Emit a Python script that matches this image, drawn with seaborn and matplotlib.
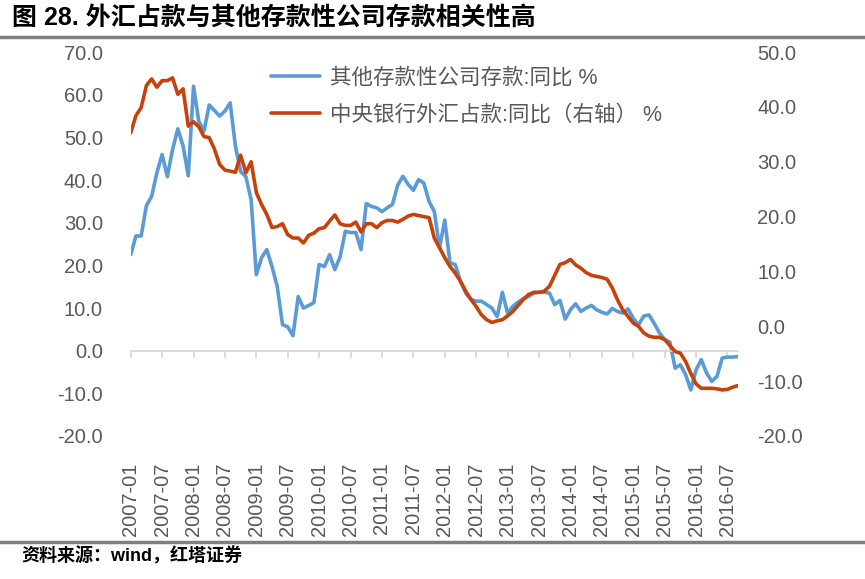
# 外汇占款与其他存款性公司存款 同比走势
import numpy as np
import pandas as pd
import matplotlib
matplotlib.use('Agg')
import matplotlib.pyplot as plt
from matplotlib.lines import Line2D
import seaborn as sns

# monthly data, 2007-01 .. 2016-09
months = pd.period_range('2007-01', periods=117, freq='M').strftime('%Y-%m').tolist()

# 其他存款性公司存款:同比 (left axis)
deposit_yoy = [
    22.5, 26.9, 26.9, 34.0, 36.2, 41.7, 46.0, 40.8, 47.2, 52.0, 48.0, 41.0,
    62.0, 53.8, 51.5, 57.6, 56.3, 55.0, 56.2, 58.1, 48.0, 42.0, 40.8, 35.4,
    17.8, 21.8, 23.7, 19.7, 15.0, 6.1, 5.6, 3.5, 12.7, 10.0, 10.6, 11.3,
    20.2, 19.7, 22.5, 19.0, 22.0, 28.0, 27.7, 27.7, 23.7, 34.5, 33.8, 33.5,
    32.6, 33.5, 34.3, 38.8, 40.9, 39.0, 37.6, 40.1, 39.3, 35.0, 32.6, 24.2,
    30.6, 20.6, 20.2, 16.3, 13.5, 12.0, 11.6, 11.6, 10.8, 10.0, 8.0, 13.7,
    8.8, 10.4, 11.4, 12.2, 12.7, 13.5, 13.7, 13.7, 13.5, 10.8, 11.8, 7.4,
    9.6, 11.0, 9.2, 10.0, 10.6, 9.6, 9.0, 8.6, 9.9, 9.2, 8.8, 9.8,
    7.6, 6.0, 8.1, 8.4, 6.4, 4.2, 2.6, 2.0, -4.1, -3.3, -5.6, -9.2,
    -4.5, -2.1, -5.2, -7.2, -6.0, -1.7, -1.5, -1.5, -1.4,
]

# 中央银行外汇占款:同比 (right axis)
fx_yoy = [
    35.3, 38.4, 39.9, 43.9, 45.1, 43.6, 44.8, 44.8, 45.3, 42.3, 43.3, 36.5,
    37.3, 36.4, 34.6, 34.4, 32.3, 29.5, 28.5, 28.3, 28.1, 31.2, 28.0, 30.0,
    24.4, 22.2, 20.4, 18.0, 18.2, 18.7, 16.7, 16.1, 16.1, 15.2, 16.6, 17.0,
    17.8, 18.0, 19.2, 20.3, 18.7, 18.4, 18.4, 19.0, 17.2, 18.7, 18.7, 18.0,
    18.9, 19.3, 19.3, 19.0, 19.5, 20.1, 20.4, 20.2, 20.0, 19.8, 16.1, 14.3,
    12.5, 10.9, 9.7, 8.2, 6.4, 4.9, 3.6, 2.1, 1.2, 0.7, 1.0, 1.2,
    1.9, 2.7, 3.8, 4.9, 5.8, 6.2, 6.2, 6.4, 7.3, 9.3, 11.3, 11.6,
    12.2, 11.2, 10.6, 9.8, 9.3, 9.1, 8.9, 8.6, 7.0, 4.8, 3.0, 1.8,
    0.6, 0.0, -1.2, -1.8, -2.0, -2.0, -2.4, -3.5, -4.6, -4.9, -6.4, -8.6,
    -10.5, -11.3, -11.3, -11.3, -11.4, -11.6, -11.5, -11.1, -10.8,
]

label_left = '其他存款性公司存款:同比 %'
label_right = '中央银行外汇占款:同比（右轴） %'

df = pd.DataFrame({'t': np.arange(len(months)), 'deposit': deposit_yoy, 'fx': fx_yoy})

tick_idx = list(range(0, len(months) - 2, 6))
tick_lab = [months[i] for i in tick_idx]

sns.set_theme(style='white')
plt.rcParams['font.family'] = ['Liberation Sans', 'Noto Sans CJK SC', 'DejaVu Sans']

grey = '#595959'
fig = plt.figure(figsize=(8.65, 5.79), dpi=100)
ax = fig.add_axes([0.1511, 0.247, 0.702, 0.663])
ax2 = ax.twinx()

sns.lineplot(data=df, x='t', y='deposit', ax=ax, color='#5B9BD5', lw=2.6, label=label_left)
sns.lineplot(data=df, x='t', y='fx', ax=ax2, color='#C8410B', lw=2.6, label=label_right)

ax.set_xlim(0, len(months) - 1)
ax.set_ylim(-20, 70)
ax2.set_ylim(-20, 50)
ax.set_yticks(range(-20, 71, 10))
ax.set_yticklabels([f'{v:.1f}' for v in range(-20, 71, 10)])
ax2.set_yticks(range(-20, 51, 10))
ax2.set_yticklabels([f'{v:.1f}' for v in range(-20, 51, 10)])
ax.tick_params(axis='y', length=0, pad=20, labelsize=14.5, labelcolor=grey)
ax2.tick_params(axis='y', length=0, pad=14, labelsize=14.5, labelcolor=grey)

for a in (ax, ax2):
    for s in a.spines.values():
        s.set_visible(False)
    a.set_xlabel('')
    a.set_ylabel('')

# category axis drawn at zero of the left scale
ax.spines['bottom'].set_visible(True)
ax.spines['bottom'].set_position(('data', 0))
ax.spines['bottom'].set_color('#d9d9d9')
ax.spines['bottom'].set_linewidth(1.3)
ax.set_xticks(tick_idx)
ax.tick_params(axis='x', direction='out', length=5, width=1.3, color='#d9d9d9',
               labelbottom=False, bottom=True)

# labels sit low, under the plot
sec = ax.secondary_xaxis('bottom')
sec.set_xticks(tick_idx, labels=tick_lab)
sec.tick_params(length=0, pad=19, labelsize=14.5, labelcolor=grey, labelrotation=90)
sec.spines['bottom'].set_visible(False)

h1, l1 = ax.get_legend_handles_labels()
h2, l2 = ax2.get_legend_handles_labels()
ax.get_legend().remove()
ax2.get_legend().remove()
fig.legend(h1 + h2, l1 + l2, loc='upper left', bbox_to_anchor=(0.313, 0.884),
           frameon=False, fontsize=15.5, labelcolor=grey, handlelength=2.3,
           handletextpad=0.45, labelspacing=0.75, borderpad=0, borderaxespad=0)

fig.text(0.014, 1 - 18 / 579, '图 28. 外汇占款与其他存款性公司存款相关性高',
         fontsize=18, fontweight='bold', va='center', ha='left', color='black')
fig.add_artist(Line2D([0, 1], [0.936, 0.936], transform=fig.transFigure, color='#7f7f7f', lw=2.5))
fig.add_artist(Line2D([0, 1], [0.064, 0.064], transform=fig.transFigure, color='#7f7f7f', lw=2.5))
fig.text(0.025, 0.040, '资料来源：wind，红塔证券', fontsize=13, fontweight='bold',
         va='center', ha='left', color='black')

fig.savefig('out.png', dpi=100)
